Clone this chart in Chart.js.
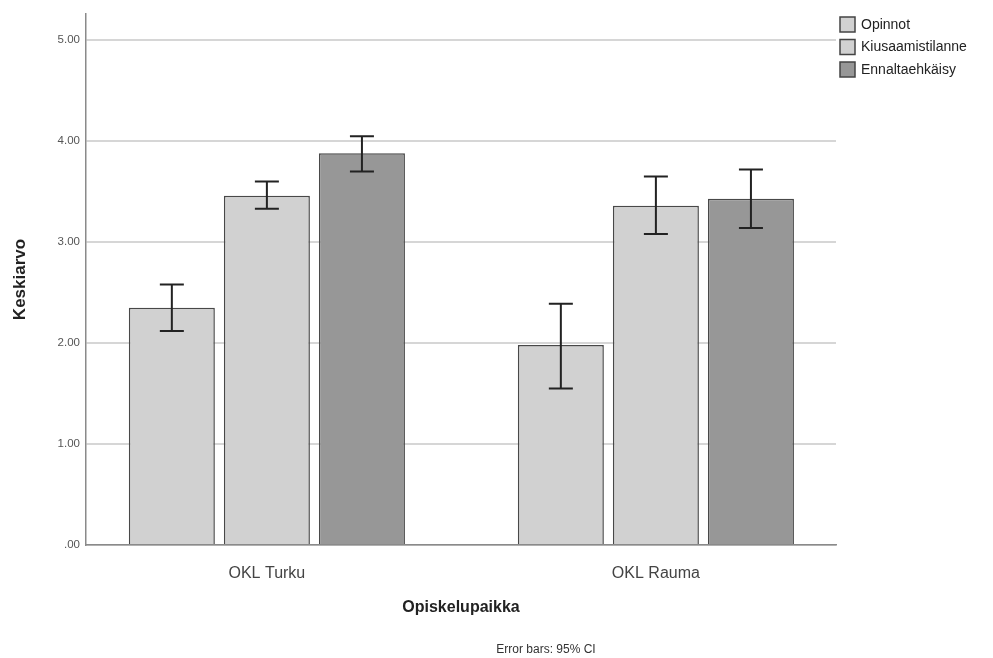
<!DOCTYPE html>
<html>
<head>
<meta charset="utf-8">
<script src="https://cdn.jsdelivr.net/npm/chart.js@4.4.1/dist/chart.umd.min.js"></script>
<style>
  html, body { margin: 0; padding: 0; background: #fff; }
  #wrap { width: 993px; height: 658px; }
</style>
</head>
<body>
<div id="wrap"><canvas id="myChart" width="993" height="658"></canvas></div>
<script>
// data
const places = ["OKL Turku", "OKL Rauma"];
const seriesNames = ["Opinnot", "Kiusaamistilanne", "Ennaltaehkäisy"];
const opinnot = [2.35, 1.98];
const kiusaamistilanne = [3.46, 3.36];
const ennaltaehkaisy = [3.88, 3.43];
// 95% CI [low, high]
const opinnotCI = [[2.12, 2.58], [1.55, 2.39]];
const kiusaamistilanneCI = [[3.33, 3.60], [3.08, 3.65]];
const ennaltaehkaisyCI = [[3.70, 4.05], [3.14, 3.72]];
const yTicks = [0, 1, 2, 3, 4, 5];

const FONT = "'Liberation Sans', Arial, sans-serif";
const fills = ['#d1d1d1', '#d1d1d1', '#979797'];

// draws the CI whiskers over each bar
const errorBars = {
    id: 'errorBars',
    afterDatasetsDraw(chart) {
        const ctx = chart.ctx;
        const yScale = chart.scales.y;
        ctx.save();
        ctx.strokeStyle = '#222';
        ctx.lineWidth = 2;
        chart.data.datasets.forEach((ds, i) => {
            const meta = chart.getDatasetMeta(i);
            meta.data.forEach((bar, j) => {
                const lo = yScale.getPixelForValue(ds.ci[j][0]);
                const hi = yScale.getPixelForValue(ds.ci[j][1]);
                ctx.beginPath();
                ctx.moveTo(bar.x, lo); ctx.lineTo(bar.x, hi);
                ctx.moveTo(bar.x - 12, lo); ctx.lineTo(bar.x + 12, lo);
                ctx.moveTo(bar.x - 12, hi); ctx.lineTo(bar.x + 12, hi);
                ctx.stroke();
            });
        });
        ctx.restore();
    }
};

// legend in the top right corner + footnote
const extras = {
    id: 'extras',
    afterDraw(chart) {
        const ctx = chart.ctx;
        ctx.save();
        ctx.font = '14px ' + FONT;
        ctx.textBaseline = 'middle';
        ctx.textAlign = 'left';
        chart.data.datasets.forEach((ds, i) => {
            const cy = 25 + i * 22.5;
            ctx.fillStyle = ds.backgroundColor;
            ctx.fillRect(840, cy - 8, 15, 15);
            ctx.strokeStyle = '#444';
            ctx.lineWidth = 1.5;
            ctx.strokeRect(840, cy - 8, 15, 15);
            ctx.fillStyle = '#222';
            ctx.fillText(ds.label, 861, cy);
        });
        ctx.font = '12px ' + FONT;
        ctx.textAlign = 'center';
        ctx.fillStyle = '#333';
        ctx.fillText('Error bars: 95% CI', 546, 650);
        ctx.restore();
    }
};

const ctx = document.getElementById("myChart").getContext("2d");
const allValues = [opinnot, kiusaamistilanne, ennaltaehkaisy];
const allCI = [opinnotCI, kiusaamistilanneCI, ennaltaehkaisyCI];

new Chart(ctx, {
    type: 'bar',
    data: {
        datasets: seriesNames.map((name, i) => ({
            label: name,
            data: allValues[i].map((v, j) => ({ x: j, y: v })),
            ci: allCI[i],
            backgroundColor: fills[i],
            borderColor: '#484848',
            borderWidth: 1.5,
            categoryPercentage: 0.733,
            barPercentage: 0.905
        }))
    },
    options: {
        responsive: false,
        animation: false,
        layout: { padding: { top: 14, right: 157, left: 0, bottom: 0 } },
        plugins: {
            legend: { display: false },
            tooltip: { enabled: false }
        },
        scales: {
            x: {
                type: 'linear',
                min: -0.465,
                max: 1.463,
                offset: false,
                afterBuildTicks(scale) { scale.ticks = places.map((p, j) => ({ value: j })); },
                grid: { display: false },
                border: { display: true, color: '#8a8a8a', width: 1.5 },
                ticks: {
                    color: '#444', font: { family: FONT, size: 16 }, padding: 11,
                    callback: v => places[v]
                },
                title: {
                    display: true, text: 'Opiskelupaikka', color: '#222',
                    font: { family: FONT, size: 16, weight: 'bold' },
                    padding: { top: 0, bottom: 41 }
                },
                afterFit(scale) { scale.height = 113; }
            },
            y: {
                min: 0,
                max: 5.26,
                afterBuildTicks(scale) { scale.ticks = yTicks.map(v => ({ value: v })); },
                grid: { color: '#d6d6d6', lineWidth: 2, drawTicks: false },
                border: { display: true, color: '#8a8a8a', width: 1.5 },
                ticks: {
                    color: '#555', padding: 6,
                    font: { family: FONT, size: 11.5 },
                    callback: v => v === 0 ? '.00' : v.toFixed(2)
                },
                title: {
                    display: true, text: 'Keskiarvo', color: '#222',
                    font: { family: FONT, size: 17, weight: 'bold' },
                    padding: { top: 10, bottom: 0 }
                },
                afterFit(scale) { scale.width = 86; }
            }
        }
    },
    plugins: [errorBars, extras]
});
</script>
</body>
</html>
